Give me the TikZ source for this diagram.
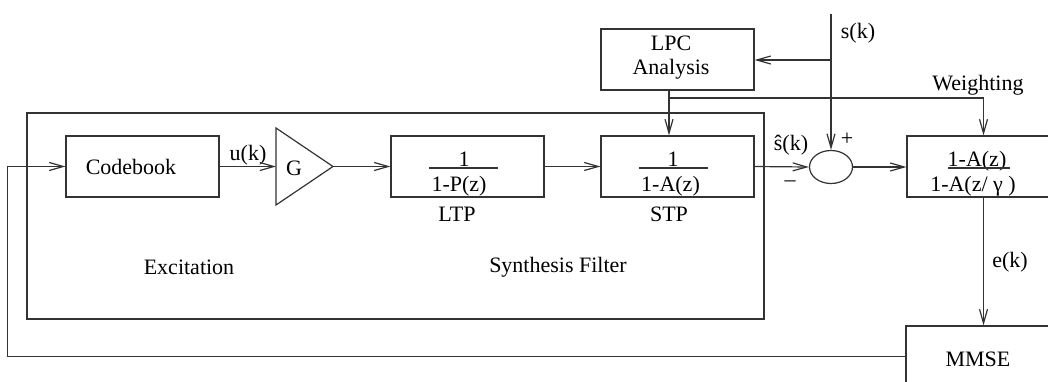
\documentclass[tikz,border=0pt]{standalone}
\usepackage{fontspec}
\setmainfont{Liberation Serif}
\usetikzlibrary{arrows.meta,shapes.geometric,calc}
\begin{document}
\begin{tikzpicture}[x=0.5pt,y=-0.5pt,
  font=\fontsize{11}{12}\selectfont,
  line width=0.6pt,
  ln/.style={draw=black!80},
  box/.style={draw=black!80, rectangle, minimum width=76.5pt, minimum height=30.5pt, inner sep=0pt},
  arr/.style={draw=black!80, -{Straight Barb[length=7pt,width=4pt]}},
  lbl/.style={inner sep=0pt, text=black}]
\useasboundingbox (0,0) rectangle (1048,381);
\clip (0,0) rectangle (1048,381);

% outer synthesis region
\node[draw=black!80, minimum width=368.5pt, minimum height=103pt, inner sep=0pt] (synth) at (395.5,216) {};

% blocks
\node[box] (cb) at (142.5,166.5) {};
\node[lbl] (cbt) at (131,167) {Codebook};
% gain triangle
\coordinate (gin) at (276,166.5);
\coordinate (gout) at (333,166.5);
\draw[ln] (276,128) -- (gout) -- (276,205) -- cycle;
\node[lbl] (gt) at (294,168) {G};
\node[box] (ltp) at (467.5,166.5) {};
\node[box] (stp) at (677.5,166.5) {};
\node[box] (lpc) at (677.5,59.5) {};
\node[lbl, align=center] (lpct) at (671,58) {LPC\\Analysis};
\node[box] (wf) at (983.5,166.5) {};
\node[box] (mmse) at (982.5,356.5) {};
\node[lbl] (mmset) at (978,359) {MMSE};
\node[draw=black!80, ellipse, minimum width=21.5pt, minimum height=16.5pt, inner sep=0pt] (sum) at (831,167) {};

% fractions
\node[lbl, anchor=base] (ltpn) at (464,166) {1};
\draw[ln] (429,168) -- (498,168);
\node[lbl, anchor=base] (ltpd) at (459,191) {1-P(z)};
\node[lbl, anchor=base] (stpn) at (673,166) {1};
\draw[ln] (639,168) -- (708,168);
\node[lbl, anchor=base] (stpd) at (670.5,191) {1-A(z)};
\node[lbl, anchor=base] (wfn) at (977,166) {1-A(z)};
\draw[ln] (948,168) -- (1010,168);
\node[lbl, anchor=base] (wfd) at (973,191) {1-A(z/ γ )};

% labels
\node[lbl] (uk) at (248,155) {u(k)};
\node[lbl] (ltpl) at (457,214) {LTP};
\node[lbl] (stpl) at (669,214) {STP};
\node[lbl] (exc) at (189,267) {Excitation};
\node[lbl] (synl) at (558,267) {Synthesis Filter};
\node[lbl] (sk) at (858,33) {s(k)};
\node[lbl] (wl) at (978,85) {Weighting};
\node[lbl] (shat) at (791,145) {ŝ(k)};
\node[lbl] (plus) at (847,139) {+};
\node[lbl] (minus) at (790,184) {–};
\node[lbl] (ek) at (1010,262) {e(k)};

% coordinates
\coordinate (stop) at (831,14);
\coordinate (sbr) at (831,60);
\coordinate (lpco) at (669,90);
\coordinate (wj) at (669,98);

% connectors
\draw[arr] (cb.east) -- (gin);
\draw[arr] (gout) -- (ltp.west);
\draw[arr] (ltp.east) -- (stp.west);
\draw[arr] (stp.east) -- (sum.west);
\draw[arr] (sum.east) -- (sum.east -| wf.west);
\draw[arr] (stop) -- (sum.north);
\draw[arr] (sbr) -- (sbr -| lpc.east);
\draw[arr] (lpco) -- (lpco |- stp.north);
\draw[arr] (wj) -| (wf.north);
\draw[arr] (wf.south) -- (wf.south |- mmse.north);
\draw[arr] (mmse.west) -| ($(cb.west)+(-58,0)$) -- (cb.west);
\end{tikzpicture}
\end{document}
